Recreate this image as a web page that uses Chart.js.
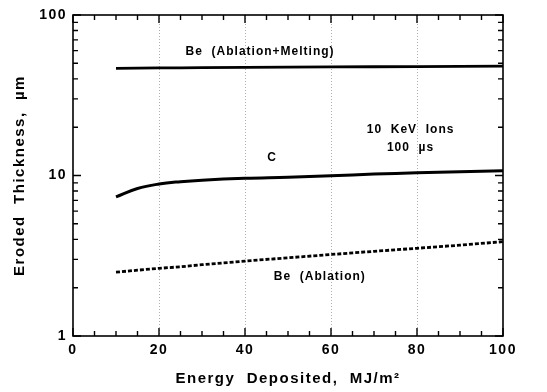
<!DOCTYPE html>
<html>
<head>
<meta charset="utf-8">
<script src="https://cdn.jsdelivr.net/npm/chart.js@4/dist/chart.umd.min.js"></script>
<style>
  html, body { margin: 0; padding: 0; background: #fff; }
  #wrap { width: 547px; height: 392px; }
</style>
</head>
<body>
<div id="wrap"><canvas id="chart" width="547" height="392"></canvas></div>
<script>
// energy deposited, MJ/m^2
var energy = [10, 15, 20, 25, 30, 40, 50, 60, 70, 80, 90, 100];
// eroded thickness, um
var beMelting = [46.5, 46.6, 46.8, 46.9, 47.0, 47.2, 47.4, 47.5, 47.6, 47.7, 47.8, 48.0];
var carbon = [7.35, 8.3, 8.85, 9.15, 9.35, 9.6, 9.75, 9.95, 10.2, 10.4, 10.55, 10.7];
var beAblation = [2.5, 2.57, 2.64, 2.7, 2.78, 2.93, 3.07, 3.22, 3.37, 3.52, 3.68, 3.87];

var xTickLabels = [0, 20, 40, 60, 80, 100];
var yTickLabels = [1, 10, 100];
var xMinorTicks = [5, 10, 15, 25, 30, 35, 45, 50, 55, 65, 70, 75, 85, 90, 95];
var yMinorTicks = [2, 3, 4, 5, 6, 7, 8, 9, 20, 30, 40, 50, 60, 70, 80, 90];

var notes = [
	{ text: 'Be  (Ablation+Melting)', x: 43.5, y: 59 },
	{ text: '10  KeV  Ions', x: 78.5, y: 19.2 },
	{ text: '100  \u00b5s', x: 78.5, y: 14.8 },
	{ text: 'C', x: 46.3, y: 12.9 },
	{ text: 'Be  (Ablation)', x: 57.4, y: 2.34 }
];

var FONT = '"Liberation Sans", Arial, sans-serif';

function pts(ys) {
	return energy.map(function(x, i) { return { x: x, y: ys[i] }; });
}

// the scanned lettering is set wide
var spacingPlugin = {
	id: 'spacing',
	beforeUpdate: function(chart) { chart.ctx.letterSpacing = '1.5px'; },
	beforeDraw: function(chart) { chart.ctx.letterSpacing = '1.5px'; }
};

var framePlugin = {
	id: 'frame',
	afterDraw: function(chart) {
		var ctx = chart.ctx;
		var a = chart.chartArea;
		var xs = chart.scales.x, ys = chart.scales.y;
		ctx.save();
		ctx.strokeStyle = '#000';
		ctx.lineWidth = 1.6;
		ctx.strokeRect(a.left, a.top, a.right - a.left, a.bottom - a.top);

		ctx.beginPath();
		xTickLabels.forEach(function(v) {
			var p = xs.getPixelForValue(v);
			ctx.moveTo(p, a.bottom); ctx.lineTo(p, a.bottom - 8);
			ctx.moveTo(p, a.top); ctx.lineTo(p, a.top + 8);
		});
		xMinorTicks.forEach(function(v) {
			var p = xs.getPixelForValue(v);
			ctx.moveTo(p, a.bottom); ctx.lineTo(p, a.bottom - 5);
			ctx.moveTo(p, a.top); ctx.lineTo(p, a.top + 5);
		});
		yTickLabels.forEach(function(v) {
			var p = ys.getPixelForValue(v);
			ctx.moveTo(a.left, p); ctx.lineTo(a.left + 8, p);
			ctx.moveTo(a.right, p); ctx.lineTo(a.right - 8, p);
		});
		yMinorTicks.forEach(function(v) {
			var p = ys.getPixelForValue(v);
			ctx.moveTo(a.left, p); ctx.lineTo(a.left + 5, p);
			ctx.moveTo(a.right, p); ctx.lineTo(a.right - 5, p);
		});
		ctx.lineWidth = 1.4;
		ctx.stroke();

		ctx.fillStyle = '#000';
		ctx.letterSpacing = '1px';
		ctx.font = 'bold 12px ' + FONT;
		ctx.textAlign = 'center';
		ctx.textBaseline = 'middle';
		notes.forEach(function(n) {
			ctx.fillText(n.text, xs.getPixelForValue(n.x), ys.getPixelForValue(n.y));
		});
		ctx.restore();
	}
};

var chart = new Chart(document.getElementById('chart'), {
	type: 'line',
	data: {
		datasets: [
			{ data: pts(beMelting), borderColor: '#000', borderWidth: 2.8, pointRadius: 0, tension: 0 },
			{ data: pts(carbon), borderColor: '#000', borderWidth: 3, pointRadius: 0, tension: 0.4 },
			{ data: pts(beAblation), borderColor: '#000', borderWidth: 2.8, borderDash: [4, 2], pointRadius: 0, tension: 0 }
		]
	},
	options: {
		responsive: false,
		animation: false,
		layout: { padding: { top: 15, right: 44, left: 0, bottom: 0 } },
		plugins: { legend: { display: false }, tooltip: { enabled: false } },
		scales: {
			x: {
				type: 'linear',
				min: 0, max: 100,
				afterBuildTicks: function(s) { s.ticks = xTickLabels.map(function(v) { return { value: v }; }); },
				afterFit: function(s) { s.height = 56; },
				border: { display: false, dash: [1, 2] },
				grid: {
					drawTicks: false,
					color: function(c) { return (c.tick && (c.tick.value === 0 || c.tick.value === 100)) ? 'rgba(0,0,0,0)' : '#b0b0b0'; },
					lineWidth: 1
				},
				ticks: { color: '#000', padding: 6, font: { family: FONT, size: 14, weight: 'bold' }, maxRotation: 0 },
				title: { display: true, text: 'Energy  Deposited,  MJ/m\u00b2', color: '#000', padding: { top: 10 }, font: { family: FONT, size: 15, weight: 'bold' } }
			},
			y: {
				type: 'logarithmic',
				min: 1, max: 100,
				afterBuildTicks: function(s) { s.ticks = yTickLabels.map(function(v) { return { value: v }; }); },
				afterFit: function(s) { s.width = 73; },
				border: { display: false },
				grid: { display: false, drawTicks: false },
				ticks: { color: '#000', padding: 6, font: { family: FONT, size: 14, weight: 'bold' }, callback: function(v) { return String(v); } },
				title: { display: true, text: 'Eroded  Thickness,  \u00b5m', color: '#000', padding: { top: 11 }, font: { family: FONT, size: 15, weight: 'bold' } }
			}
		}
	},
	plugins: [spacingPlugin, framePlugin]
});
</script>
</body>
</html>
